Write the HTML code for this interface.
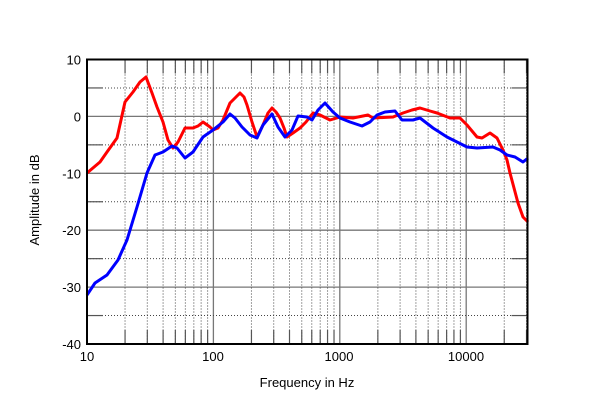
<!DOCTYPE html>
<html><head><meta charset="utf-8"><style>
body{margin:0;background:#fff;width:600px;height:409px;overflow:hidden}
svg{display:block;font-family:"Liberation Sans",Arial,sans-serif}
</style></head><body>
<svg id="s" width="600" height="409" xmlns="http://www.w3.org/2000/svg">
<g id="grid"></g>
<polyline fill="none" stroke="#f00" stroke-width="3" stroke-linejoin="round" points="87,173 100,162 107,152 117,138 125,102 133,92 140,82 146,77 152,93 157,107 163,122 168,140 173,148 178,142 185,128 193,128 198,126 203,122 210,127 213,130 218,128 223,120 230,103 235,98 240,93 244,97 247,105 252,122 257,137 263,125 268,113 272,108 276,112 280,118 284,128 287,137 293,133 300,128 306,122 313,113 320,115 330,120 340,117 353,118 368,115 373,118 393,117 403,113 412,110 420,108 430,111 437,113 450,118 460,118 467,125 472,131 477,137 482,138 490,133 497,138 503,150 507,160 510,173 514,188 518,203 523,217 528,222"/>
<polyline fill="none" stroke="#00f" stroke-width="3" stroke-linejoin="round" points="87,295 95,283 107,275 118,260 127,240 137,207 147,173 155,155 163,152 172,146 177,148 185,158 193,152 203,137 213,130 223,122 230,114 235,118 242,127 250,135 257,138 263,125 272,114 278,127 285,137 292,130 298,116 307,117 312,120 318,110 325,103 333,112 340,118 350,122 362,126 370,122 377,115 385,112 395,111 402,120 413,120 420,118 433,128 447,137 457,142 467,147 477,148 493,147 500,150 507,155 515,157 523,162 528,158"/>
<rect x="87" y="59.5" width="440.5" height="284.5" fill="none" stroke="#000" stroke-width="2"/>
<g font-size="13" fill="#000" text-anchor="end" id="yl"></g>
<g font-size="13" fill="#000" text-anchor="middle">
<text x="87" y="361">10</text><text x="213" y="361">100</text><text x="339" y="361">1000</text><text x="466" y="361">10000</text>
<text x="307" y="387">Frequency in Hz</text>
<text transform="translate(39,200) rotate(-90)">Amplitude in dB</text>
</g>
</svg>
<script>
var g=document.getElementById('grid'),ns='http://www.w3.org/2000/svg',h='';
var L=87,R=527.5,T=59.5,B=344,ppd=126.4,dy=5.69;
function X(f){return L+ppd*(Math.log10(f)-1);}
function Y(d){return T+(10-d)*dy;}
for(var dec=10;dec<=10000;dec*=10){for(var m=1;m<=9;m++){var x=X(dec*m);if(x>R)break;if(m==1){h+='<line x1="'+x+'" y1="'+T+'" x2="'+x+'" y2="'+B+'" stroke="#777" stroke-width="1.3"/>';}else{h+='<line x1="'+x+'" y1="'+T+'" x2="'+x+'" y2="'+B+'" stroke="#444" stroke-width="1" stroke-dasharray="1,2"/>';h+='<line x1="'+x+'" y1="'+T+'" x2="'+x+'" y2="'+(T+14)+'" stroke="#555" stroke-width="1.2"/><line x1="'+x+'" y1="'+(B-14)+'" x2="'+x+'" y2="'+B+'" stroke="#555" stroke-width="1.2"/>';}}}
for(var d=5;d>-40;d-=5){var y=Y(d);if(d%10==0){h+='<line x1="'+L+'" y1="'+y+'" x2="'+R+'" y2="'+y+'" stroke="#777" stroke-width="1.3"/>';}else{h+='<line x1="'+L+'" y1="'+y+'" x2="'+R+'" y2="'+y+'" stroke="#444" stroke-width="1" stroke-dasharray="1,2"/><line x1="'+L+'" y1="'+y+'" x2="'+(L+16)+'" y2="'+y+'" stroke="#555" stroke-width="1.2"/><line x1="'+(R-16)+'" y1="'+y+'" x2="'+R+'" y2="'+y+'" stroke="#555" stroke-width="1.2"/>';}}
g.innerHTML=h;
var yl='';for(var d=10;d>=-40;d-=10){yl+='<text x="81" y="'+(Y(d)+5)+'">'+d+'</text>';}
document.getElementById('yl').innerHTML=yl;
</script>
</body></html>
